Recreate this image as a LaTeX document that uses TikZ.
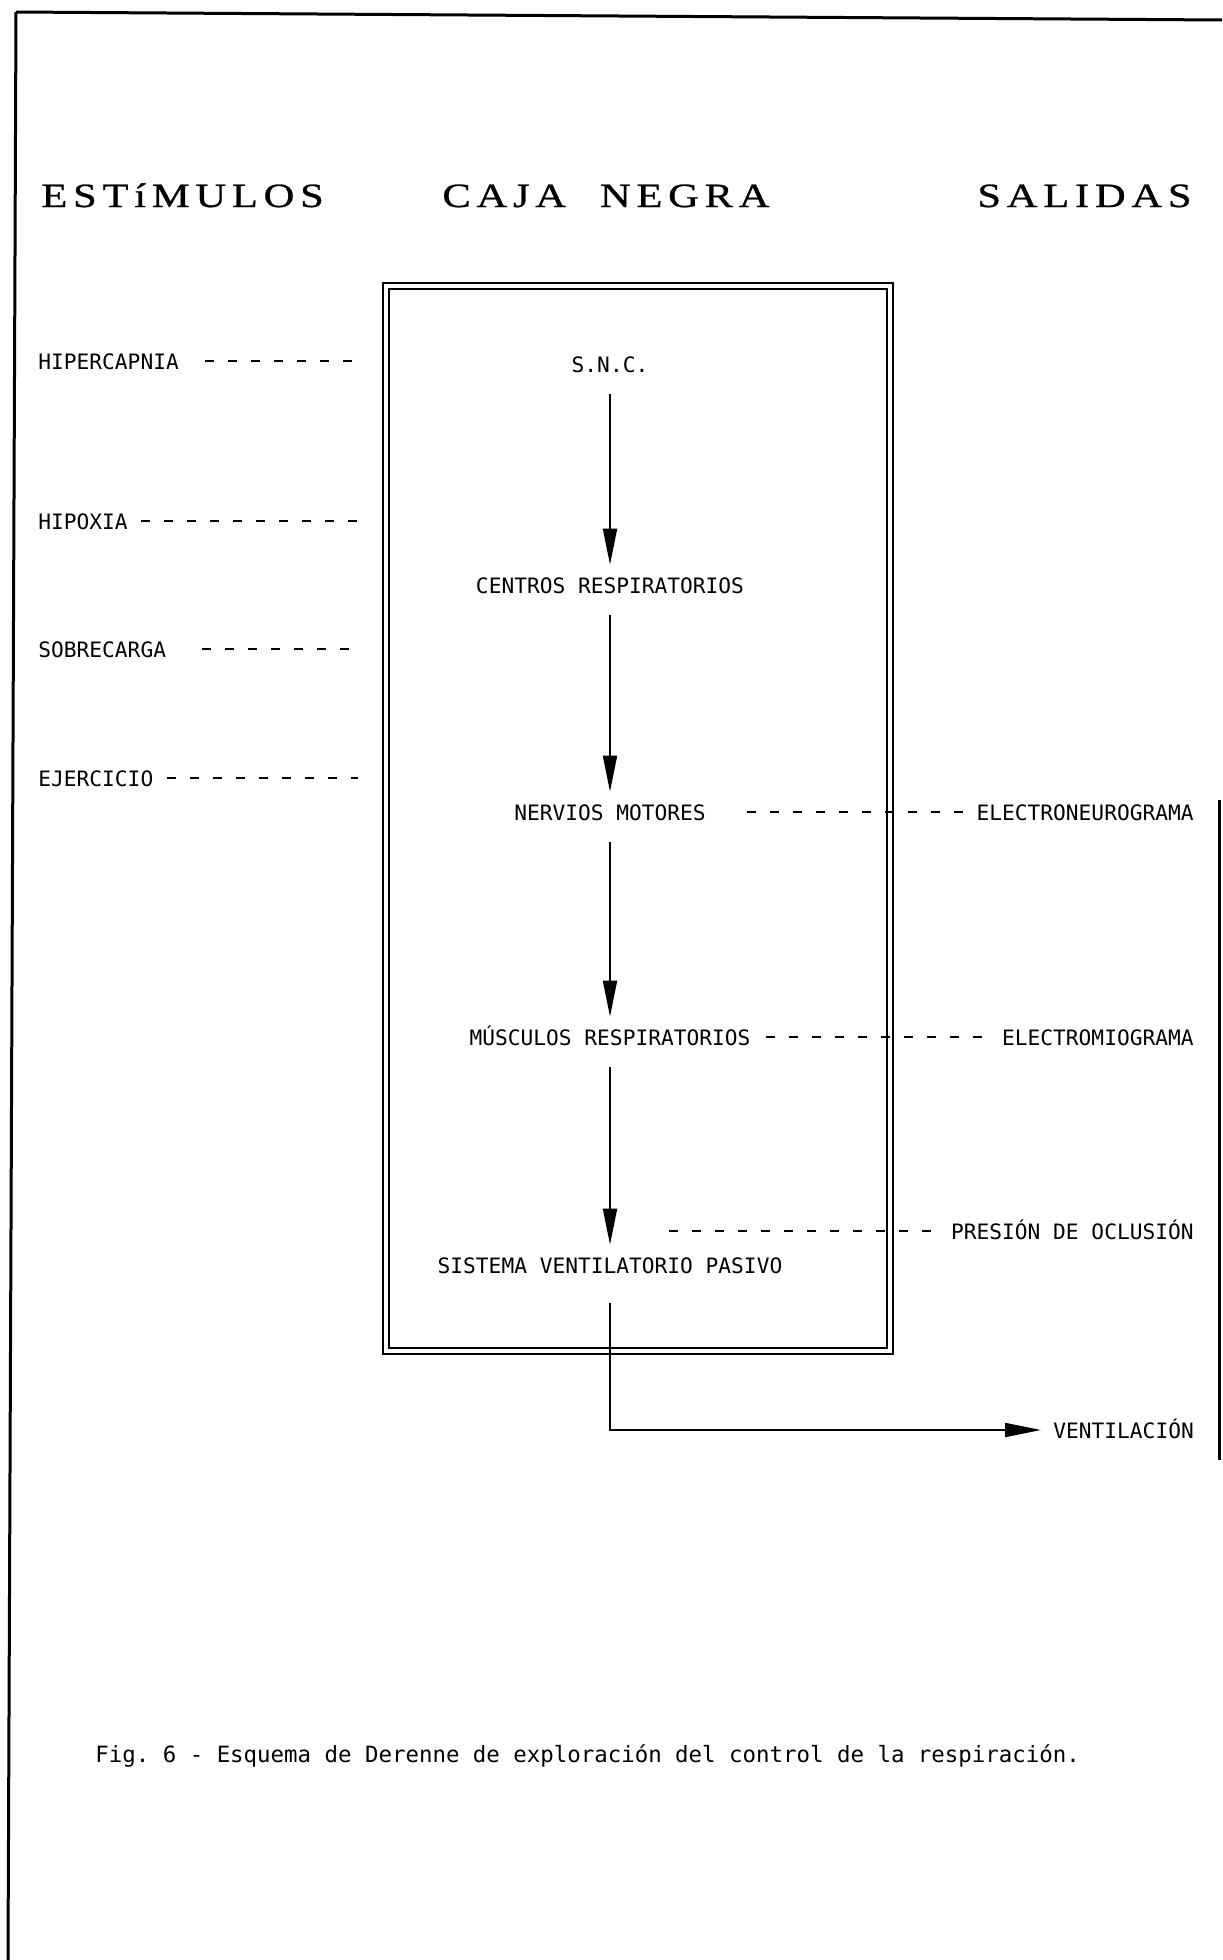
\documentclass[tikz,border=0pt]{standalone}
\usepackage{fontspec}
\usetikzlibrary{arrows.meta}
\newfontfamily\plotfont{DejaVu Sans Mono}
\newfontfamily\headfont[LetterSpace=17,FakeStretch=1.25,FakeBold=0.8]{Liberation Serif}

\begin{document}
\begin{tikzpicture}[x=0.5pt,y=-0.5pt,
        etiqueta/.style={inner sep=0pt,text height=8pt,text depth=0pt,font=\plotfont\fontsize{10.6}{12}\selectfont},
        titulo/.style={inner sep=0pt,anchor=west,text height=11pt,text depth=0pt,font=\headfont\fontsize{17}{20}\selectfont},
        flecha/.style={-{Triangle[length=18pt,width=7pt]},line width=1pt,shorten <=11pt,shorten >=6pt},
        guion/.style={line width=1.3pt,dash pattern=on 4.5pt off 7pt},
        marco/.style={line width=1.5pt}]
                \useasboundingbox (0,0) rectangle (1222,1960);
                \draw[marco] (16,12) -- (1222,20);
                \draw[marco] (16,12) -- (8,1960);
                \draw[marco] (1219,800) -- (1219,1460);

                \node[titulo] (estimulos) at (41,196) {ESTíMULOS};
                \node[titulo] (cajanegra) at (442,196) {CAJA\hspace{1em}NEGRA};
                \node[titulo] (salidas) at (977,196) {SALIDAS};

                \node[draw,double,double distance=2pt,line width=1pt,inner sep=0pt,
                      minimum width=252pt,minimum height=532.5pt] (caja) at (638,818.5) {};

                \node[etiqueta] (snc) at (610,364) {S.N.C.};
                \node[etiqueta] (centros) at (610,585) {CENTROS RESPIRATORIOS};
                \node[etiqueta] (nervios) at (610,812) {NERVIOS MOTORES};
                \node[etiqueta] (musculos) at (610,1037) {MÚSCULOS RESPIRATORIOS};
                \node[etiqueta] (sistema) at (610,1265) {SISTEMA VENTILATORIO PASIVO};
                \draw[flecha](snc)--(centros);
                \draw[flecha](centros)--(nervios);
                \draw[flecha](nervios)--(musculos);
                \draw[flecha](musculos)--(sistema);

                \node[etiqueta,anchor=west] (ventilacion) at (1053,1430) {VENTILACIÓN};
                \draw[flecha,shorten <=15pt](sistema)|-(ventilacion);

                \node[etiqueta,anchor=west] (hipercapnia) at (38,361) {HIPERCAPNIA};
                \node[etiqueta,anchor=west] (hipoxia) at (38,521) {HIPOXIA};
                \node[etiqueta,anchor=west] (sobrecarga) at (38,649) {SOBRECARGA};
                \node[etiqueta,anchor=west] (ejercicio) at (38,778) {EJERCICIO};
                \draw[guion,shorten <=13pt,shorten >=13.5pt](hipercapnia)--(hipercapnia -| caja.west);
                \draw[guion,shorten <=6.5pt,shorten >=13.5pt](hipoxia)--(hipoxia -| caja.west);
                \draw[guion,shorten <=18pt,shorten >=13.5pt](sobrecarga)--(sobrecarga -| caja.west);
                \draw[guion,shorten <=6.5pt,shorten >=13.5pt](ejercicio)--(ejercicio -| caja.west);

                \node[etiqueta,anchor=east] (neurograma) at (1194,812) {ELECTRONEUROGRAMA};
                \node[etiqueta,anchor=east] (miograma) at (1194,1037) {ELECTROMIOGRAMA};
                \node[etiqueta,anchor=east] (presion) at (1194,1231) {PRESIÓN DE OCLUSIÓN};
                \coordinate (oclusion) at (669,1231);
                \draw[guion,shorten <=20.5pt,shorten >=5.5pt](nervios)--(neurograma);
                \draw[guion,shorten <=7.5pt,shorten >=4pt](musculos)--(miograma);
                \draw[guion,shorten >=7pt](oclusion)--(presion);

                \node[etiqueta,anchor=west,font=\plotfont\fontsize{11.2}{13}\selectfont] (pie) at (95,1754)
                    {Fig.\ 6 - Esquema de Derenne de exploración del control de la respiración.};
\end{tikzpicture}
\end{document}
